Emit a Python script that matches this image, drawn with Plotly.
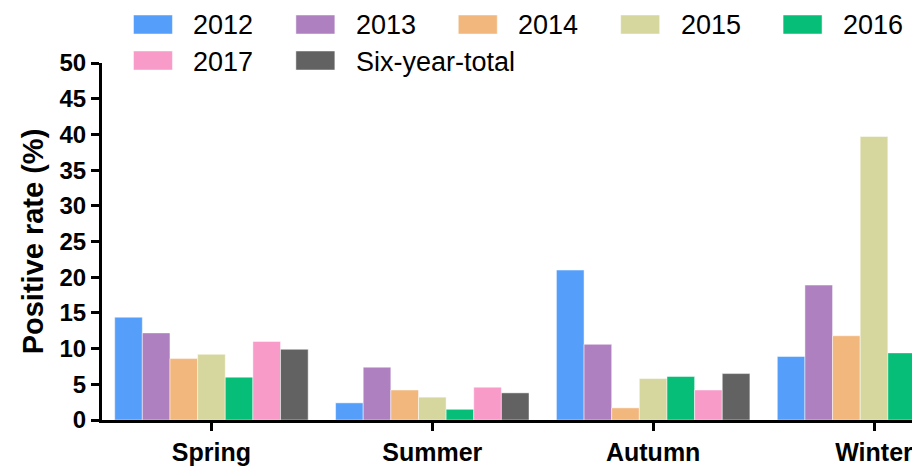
import plotly.graph_objects as go

seasons = ["Spring", "Summer", "Autumn", "Winter"]
series_names = ["2012", "2013", "2014", "2015", "2016", "2017", "Six-year-total"]
colors = ["#559FFB", "#AF80C0", "#F2B77D", "#D6D79E", "#07BE79", "#F89BC9", "#626262"]

v2012 = [14.4, 2.4, 21.0, 8.9]
v2013 = [12.2, 7.4, 10.6, 18.9]
v2014 = [8.6, 4.2, 1.7, 11.8]
v2015 = [9.2, 3.2, 5.8, 39.7]
v2016 = [6.0, 1.5, 6.1, 9.4]
v2017 = [11.0, 4.6, 4.2, 11.0]
v_total = [9.9, 3.8, 6.5, 16.0]

y_ticks = list(range(0, 51, 5))

values = [v2012, v2013, v2014, v2015, v2016, v2017, v_total]

W, H = 912, 466
ML, MR, MT, MB = 101.5, 0, 63, 46
FONT = "Liberation Sans, Arial, sans-serif"

fig = go.Figure()
for name, vals, col in zip(series_names, values, colors):
    fig.add_trace(go.Bar(
        x=seasons, y=vals, name=name,
        marker=dict(color=col, line=dict(color="rgba(255,255,255,0.6)", width=0.8)),
        showlegend=False,
    ))

# manual legend (large swatches like the reference)
pw = W - ML - MR
ph = H - MT - MB
def px2paper_x(px):
    return (px - ML) / pw
def px2paper_y(py):
    return (H - MB - py) / ph

leg_x0, leg_dx = 133, 162.5
row_y = [24.5, 60.5]
sw_w, sw_h = 39, 19
for i, (name, col) in enumerate(zip(series_names, colors)):
    r, c = divmod(i, 5)
    lx = leg_x0 + c * leg_dx
    cy = row_y[r]
    fig.add_shape(type="rect", xref="paper", yref="paper",
                  x0=px2paper_x(lx), x1=px2paper_x(lx + sw_w),
                  y0=px2paper_y(cy + sw_h / 2), y1=px2paper_y(cy - sw_h / 2),
                  fillcolor=col, line=dict(color="rgba(255,255,255,0.6)", width=0.8))
    fig.add_annotation(xref="paper", yref="paper",
                       x=px2paper_x(lx + 58), y=px2paper_y(cy + 1),
                       text=name, showarrow=False, xanchor="left", yanchor="middle",
                       font=dict(family=FONT, size=27, color="#000"))

cat_px = 221.0
first_center_px = 211.0
x0 = -(first_center_px - ML) / cat_px
x1 = x0 + pw / cat_px

fig.update_layout(
    width=W, height=H,
    margin=dict(l=ML, r=MR, t=MT, b=MB, autoexpand=False),
    paper_bgcolor="white", plot_bgcolor="white",
    barmode="group", bargap=0.124, bargroupgap=0,
    font=dict(family=FONT, color="#000"),
)
fig.update_xaxes(
    range=[x0, x1], showgrid=False, zeroline=False,
    showline=True, linecolor="#000", linewidth=3,
    ticks="outside", ticklen=8, tickwidth=3, tickcolor="#000",
    tickfont=dict(family=FONT, size=25, weight="bold"),
)
fig.update_yaxes(
    range=[0, 50], tickvals=y_ticks, showgrid=False, zeroline=False,
    showline=True, linecolor="#000", linewidth=3,
    ticks="outside", ticklen=8, tickwidth=3, tickcolor="#000",
    tickfont=dict(family=FONT, size=24, weight="bold"),
    title=dict(text="Positive rate (%)", font=dict(family=FONT, size=29, weight="bold"), standoff=8),
)

fig.write_html("out.html", config={"displayModeBar": False},
               post_script="document.body.style.margin='0';document.body.style.overflow='hidden';")
